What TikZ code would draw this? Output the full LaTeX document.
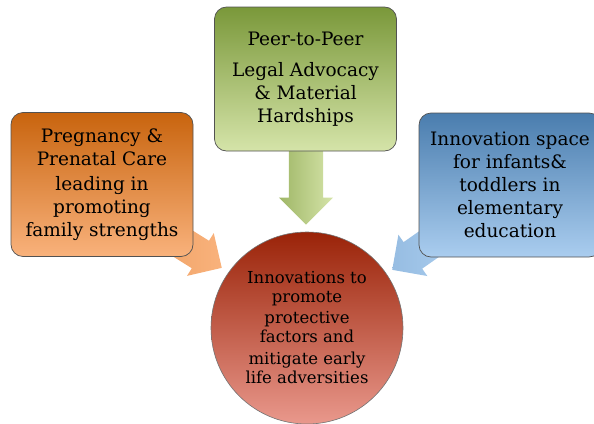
\documentclass[tikz,border=0pt]{standalone}
\usepackage{fontspec}
\setmainfont{DejaVu Serif}
\usetikzlibrary{shapes.arrows}

\definecolor{orgtop}{HTML}{C8640E}
\definecolor{orgbot}{HTML}{F9B27C}
\definecolor{grntop}{HTML}{7A983A}
\definecolor{grnbot}{HTML}{D5E4A9}
\definecolor{blutop}{HTML}{4A7DAE}
\definecolor{blubot}{HTML}{AACDEF}
\definecolor{redtop}{HTML}{9A2308}
\definecolor{redbot}{HTML}{E9988C}

\begin{document}
\begin{tikzpicture}[x=1pt,y=-1pt,
  box/.style={rounded corners=12pt,draw=black!68,line width=0.7pt,minimum width=182pt,minimum height=144pt,align=center,inner sep=0pt,font=\fontsize{18.5}{23}\selectfont},
  blockarrow/.style={single arrow,single arrow head extend=10pt,minimum width=54pt,inner xsep=0pt,inner ysep=17pt,draw=none,anchor=tip}]
\useasboundingbox (0,0) rectangle (594,423);

% block arrows first, boxes go over their tails
\node [blockarrow,minimum height=90pt,rotate=-90,left color=grntop!60!grnbot,right color=grnbot] (arrC) at (306,225) {};
\node [blockarrow,minimum height=75pt,minimum width=50pt,inner ysep=16pt,single arrow head extend=9pt,rotate=-32,left color=orgbot!80!orgtop,right color=orgbot] (arrL) at (222,268) {};
\node [blockarrow,minimum height=75pt,minimum width=50pt,inner ysep=16pt,single arrow head extend=9pt,rotate=-145,left color=blubot!80!blutop,right color=blubot] (arrR) at (392,270) {};

\node [box,top color=orgtop,bottom color=orgbot] (pregnancy) at (102,184.5) {Pregnancy \&\\Prenatal Care\\[2pt]leading in\\promoting\\family strengths};

\node [box,top color=grntop,bottom color=grnbot] (peer) at (305.5,79) {Peer-to-Peer\\[8pt]Legal Advocacy\\\& Material\\Hardships};

\node [box,top color=blutop,bottom color=blubot] (innov) at (510,185) {Innovation space\\for infants\&\\toddlers in\\elementary\\education};

\node [circle,draw=black!55,line width=0.6pt,minimum size=192pt,inner sep=0pt,align=center,top color=redtop,bottom color=redbot,font=\fontsize{16.5}{19}\selectfont] (goal) at (307,328) {Innovations to\\promote\\[2pt]protective\\factors and\\[3pt]mitigate early\\life adversities};

\end{tikzpicture}
\end{document}
